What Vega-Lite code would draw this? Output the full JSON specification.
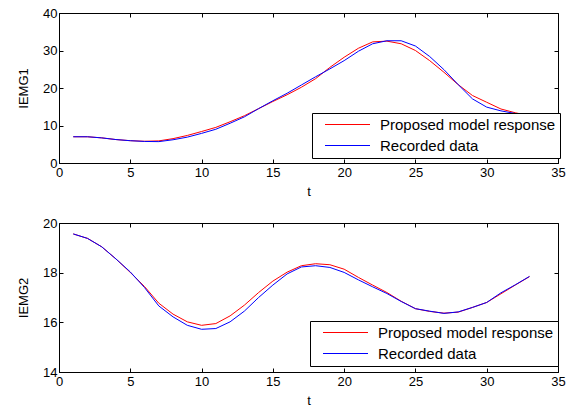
{
  "$schema": "https://vega.github.io/schema/vega-lite/v6.json",
  "background": "white",
  "padding": {"left": 17, "top": 6, "right": 5, "bottom": 5},
  "bounds": "flush",
  "spacing": 60,
  "datasets": {
    "iemg1": [
      {"t": 1, "series": "Proposed model response", "value": 7.0},
      {"t": 2, "series": "Proposed model response", "value": 7.0},
      {"t": 3, "series": "Proposed model response", "value": 6.7},
      {"t": 4, "series": "Proposed model response", "value": 6.25},
      {"t": 5, "series": "Proposed model response", "value": 5.95},
      {"t": 6, "series": "Proposed model response", "value": 5.8},
      {"t": 7, "series": "Proposed model response", "value": 5.9},
      {"t": 8, "series": "Proposed model response", "value": 6.5},
      {"t": 9, "series": "Proposed model response", "value": 7.35},
      {"t": 10, "series": "Proposed model response", "value": 8.4},
      {"t": 11, "series": "Proposed model response", "value": 9.5},
      {"t": 12, "series": "Proposed model response", "value": 11.0},
      {"t": 13, "series": "Proposed model response", "value": 12.6},
      {"t": 14, "series": "Proposed model response", "value": 14.5},
      {"t": 15, "series": "Proposed model response", "value": 16.4},
      {"t": 16, "series": "Proposed model response", "value": 18.2},
      {"t": 17, "series": "Proposed model response", "value": 20.2},
      {"t": 18, "series": "Proposed model response", "value": 22.5},
      {"t": 19, "series": "Proposed model response", "value": 25.5},
      {"t": 20, "series": "Proposed model response", "value": 28.2},
      {"t": 21, "series": "Proposed model response", "value": 30.6},
      {"t": 22, "series": "Proposed model response", "value": 32.3},
      {"t": 23, "series": "Proposed model response", "value": 32.5},
      {"t": 24, "series": "Proposed model response", "value": 31.8},
      {"t": 25, "series": "Proposed model response", "value": 30.0},
      {"t": 26, "series": "Proposed model response", "value": 27.3},
      {"t": 27, "series": "Proposed model response", "value": 24.2},
      {"t": 28, "series": "Proposed model response", "value": 20.9},
      {"t": 29, "series": "Proposed model response", "value": 18.0},
      {"t": 30, "series": "Proposed model response", "value": 16.2},
      {"t": 31, "series": "Proposed model response", "value": 14.4},
      {"t": 32, "series": "Proposed model response", "value": 13.4},
      {"t": 33, "series": "Proposed model response", "value": 12.6},
      {"t": 1, "series": "Recorded data", "value": 7.0},
      {"t": 2, "series": "Recorded data", "value": 7.0},
      {"t": 3, "series": "Recorded data", "value": 6.7},
      {"t": 4, "series": "Recorded data", "value": 6.25},
      {"t": 5, "series": "Recorded data", "value": 5.95},
      {"t": 6, "series": "Recorded data", "value": 5.75},
      {"t": 7, "series": "Recorded data", "value": 5.7},
      {"t": 8, "series": "Recorded data", "value": 6.2},
      {"t": 9, "series": "Recorded data", "value": 6.9},
      {"t": 10, "series": "Recorded data", "value": 7.9},
      {"t": 11, "series": "Recorded data", "value": 9.0},
      {"t": 12, "series": "Recorded data", "value": 10.6},
      {"t": 13, "series": "Recorded data", "value": 12.3},
      {"t": 14, "series": "Recorded data", "value": 14.5},
      {"t": 15, "series": "Recorded data", "value": 16.6},
      {"t": 16, "series": "Recorded data", "value": 18.6},
      {"t": 17, "series": "Recorded data", "value": 20.8},
      {"t": 18, "series": "Recorded data", "value": 23.0},
      {"t": 19, "series": "Recorded data", "value": 25.1},
      {"t": 20, "series": "Recorded data", "value": 27.3},
      {"t": 21, "series": "Recorded data", "value": 29.8},
      {"t": 22, "series": "Recorded data", "value": 31.8},
      {"t": 23, "series": "Recorded data", "value": 32.6},
      {"t": 24, "series": "Recorded data", "value": 32.6},
      {"t": 25, "series": "Recorded data", "value": 31.2},
      {"t": 26, "series": "Recorded data", "value": 28.4},
      {"t": 27, "series": "Recorded data", "value": 24.9},
      {"t": 28, "series": "Recorded data", "value": 20.9},
      {"t": 29, "series": "Recorded data", "value": 17.1},
      {"t": 30, "series": "Recorded data", "value": 14.9},
      {"t": 31, "series": "Recorded data", "value": 13.9},
      {"t": 32, "series": "Recorded data", "value": 13.2},
      {"t": 33, "series": "Recorded data", "value": 12.5}
    ],
    "iemg2": [
      {"t": 1, "series": "Proposed model response", "value": 19.56},
      {"t": 2, "series": "Proposed model response", "value": 19.38},
      {"t": 3, "series": "Proposed model response", "value": 19.04},
      {"t": 4, "series": "Proposed model response", "value": 18.55},
      {"t": 5, "series": "Proposed model response", "value": 18.01},
      {"t": 6, "series": "Proposed model response", "value": 17.44},
      {"t": 7, "series": "Proposed model response", "value": 16.77},
      {"t": 8, "series": "Proposed model response", "value": 16.33},
      {"t": 9, "series": "Proposed model response", "value": 16.02},
      {"t": 10, "series": "Proposed model response", "value": 15.88},
      {"t": 11, "series": "Proposed model response", "value": 15.95},
      {"t": 12, "series": "Proposed model response", "value": 16.26},
      {"t": 13, "series": "Proposed model response", "value": 16.69},
      {"t": 14, "series": "Proposed model response", "value": 17.2},
      {"t": 15, "series": "Proposed model response", "value": 17.66},
      {"t": 16, "series": "Proposed model response", "value": 18.02},
      {"t": 17, "series": "Proposed model response", "value": 18.28},
      {"t": 18, "series": "Proposed model response", "value": 18.36},
      {"t": 19, "series": "Proposed model response", "value": 18.32},
      {"t": 20, "series": "Proposed model response", "value": 18.14},
      {"t": 21, "series": "Proposed model response", "value": 17.81},
      {"t": 22, "series": "Proposed model response", "value": 17.5},
      {"t": 23, "series": "Proposed model response", "value": 17.2},
      {"t": 24, "series": "Proposed model response", "value": 16.85},
      {"t": 25, "series": "Proposed model response", "value": 16.55},
      {"t": 26, "series": "Proposed model response", "value": 16.44},
      {"t": 27, "series": "Proposed model response", "value": 16.37},
      {"t": 28, "series": "Proposed model response", "value": 16.41},
      {"t": 29, "series": "Proposed model response", "value": 16.6},
      {"t": 30, "series": "Proposed model response", "value": 16.8},
      {"t": 31, "series": "Proposed model response", "value": 17.15},
      {"t": 32, "series": "Proposed model response", "value": 17.5},
      {"t": 33, "series": "Proposed model response", "value": 17.84},
      {"t": 1, "series": "Recorded data", "value": 19.56},
      {"t": 2, "series": "Recorded data", "value": 19.38},
      {"t": 3, "series": "Recorded data", "value": 19.04},
      {"t": 4, "series": "Recorded data", "value": 18.55},
      {"t": 5, "series": "Recorded data", "value": 18.03},
      {"t": 6, "series": "Recorded data", "value": 17.4},
      {"t": 7, "series": "Recorded data", "value": 16.66},
      {"t": 8, "series": "Recorded data", "value": 16.22},
      {"t": 9, "series": "Recorded data", "value": 15.88},
      {"t": 10, "series": "Recorded data", "value": 15.72},
      {"t": 11, "series": "Recorded data", "value": 15.75},
      {"t": 12, "series": "Recorded data", "value": 16.02},
      {"t": 13, "series": "Recorded data", "value": 16.45},
      {"t": 14, "series": "Recorded data", "value": 17.0},
      {"t": 15, "series": "Recorded data", "value": 17.5},
      {"t": 16, "series": "Recorded data", "value": 17.95},
      {"t": 17, "series": "Recorded data", "value": 18.23},
      {"t": 18, "series": "Recorded data", "value": 18.28},
      {"t": 19, "series": "Recorded data", "value": 18.21},
      {"t": 20, "series": "Recorded data", "value": 18.01},
      {"t": 21, "series": "Recorded data", "value": 17.71},
      {"t": 22, "series": "Recorded data", "value": 17.43},
      {"t": 23, "series": "Recorded data", "value": 17.16},
      {"t": 24, "series": "Recorded data", "value": 16.84},
      {"t": 25, "series": "Recorded data", "value": 16.55},
      {"t": 26, "series": "Recorded data", "value": 16.45},
      {"t": 27, "series": "Recorded data", "value": 16.36},
      {"t": 28, "series": "Recorded data", "value": 16.42},
      {"t": 29, "series": "Recorded data", "value": 16.6},
      {"t": 30, "series": "Recorded data", "value": 16.8},
      {"t": 31, "series": "Recorded data", "value": 17.19},
      {"t": 32, "series": "Recorded data", "value": 17.51},
      {"t": 33, "series": "Recorded data", "value": 17.85}
    ]
  },
  "vconcat": [
    {
      "width": 499,
      "height": 150,
      "data": {"name": "iemg1"},
      "layer": [
        {
          "mark": {"type": "line", "strokeWidth": 1, "clip": true},
          "encoding": {
            "x": {"field": "t", "type": "quantitative", "scale": {"domain": [0, 35], "nice": false}, "axis": {"values": [0, 5, 10, 15, 20, 25, 30, 35], "title": "t"}},
            "y": {"field": "value", "type": "quantitative", "scale": {"domain": [0, 40], "nice": false, "zero": false}, "axis": {"values": [0, 10, 20, 30, 40], "title": "IEMG1"}},
            "color": {
              "field": "series", "type": "nominal",
              "scale": {"domain": ["Proposed model response", "Recorded data"], "range": ["#ff0000", "#0000ff"]},
              "legend": {"orient": "none", "legendX": 253, "legendY": 100}
            }
          }
        },
        {
          "mark": {"type": "line", "opacity": 0},
          "encoding": {
            "x": {"field": "t", "type": "quantitative", "axis": {"orient": "top", "values": [0, 5, 10, 15, 20, 25, 30, 35], "labels": false, "title": null, "domain": false}},
            "y": {"field": "value", "type": "quantitative", "axis": {"orient": "right", "values": [0, 10, 20, 30, 40], "labels": false, "title": null, "domain": false}},
            "detail": {"field": "series"}
          }
        }
      ],
      "resolve": {"axis": {"x": "independent", "y": "independent"}}
    },
    {
      "width": 499,
      "height": 149,
      "data": {"name": "iemg2"},
      "layer": [
        {
          "mark": {"type": "line", "strokeWidth": 1, "clip": true},
          "encoding": {
            "x": {"field": "t", "type": "quantitative", "scale": {"domain": [0, 35], "nice": false}, "axis": {"values": [0, 5, 10, 15, 20, 25, 30, 35], "title": "t"}},
            "y": {"field": "value", "type": "quantitative", "scale": {"domain": [14, 20], "nice": false, "zero": false}, "axis": {"values": [14, 16, 18, 20], "title": "IEMG2"}},
            "color": {
              "field": "series", "type": "nominal",
              "scale": {"domain": ["Proposed model response", "Recorded data"], "range": ["#ff0000", "#0000ff"]},
              "legend": {"orient": "none", "legendX": 251, "legendY": 98}
            }
          }
        },
        {
          "mark": {"type": "line", "opacity": 0},
          "encoding": {
            "x": {"field": "t", "type": "quantitative", "axis": {"orient": "top", "values": [0, 5, 10, 15, 20, 25, 30, 35], "labels": false, "title": null, "domain": false}},
            "y": {"field": "value", "type": "quantitative", "axis": {"orient": "right", "values": [14, 16, 18, 20], "labels": false, "title": null, "domain": false}},
            "detail": {"field": "series"}
          }
        }
      ],
      "resolve": {"axis": {"x": "independent", "y": "independent"}}
    }
  ],
  "resolve": {"legend": {"color": "independent"}},
  "config": {
    "font": "Liberation Sans",
    "view": {"stroke": "black", "strokeWidth": 1},
    "axis": {
      "grid": false,
      "domainColor": "black",
      "domainWidth": 1,
      "tickColor": "black",
      "tickSize": -4,
      "labelColor": "black",
      "labelFontSize": 13,
      "labelPadding": 7,
      "titleColor": "black",
      "titleFontSize": 13,
      "titleFontWeight": "normal",
      "labelFlush": false,
      "labelOverlap": false
    },
    "axisX": {"titlePadding": 6},
    "axisY": {"titlePadding": 12, "labelPadding": 6},
    "legend": {
      "title": null,
      "fillColor": "white",
      "strokeColor": "black",
      "strokeWidth": 1,
      "cornerRadius": 0,
      "padding": 4,
      "symbolType": "M-5,0H5",
      "symbolSize": 81,
      "symbolStrokeWidth": 1,
      "symbolOffset": 24,
      "labelFontSize": 15,
      "labelColor": "black",
      "labelOffset": 25,
      "labelLimit": 300,
      "rowPadding": 5
    }
  }
}
